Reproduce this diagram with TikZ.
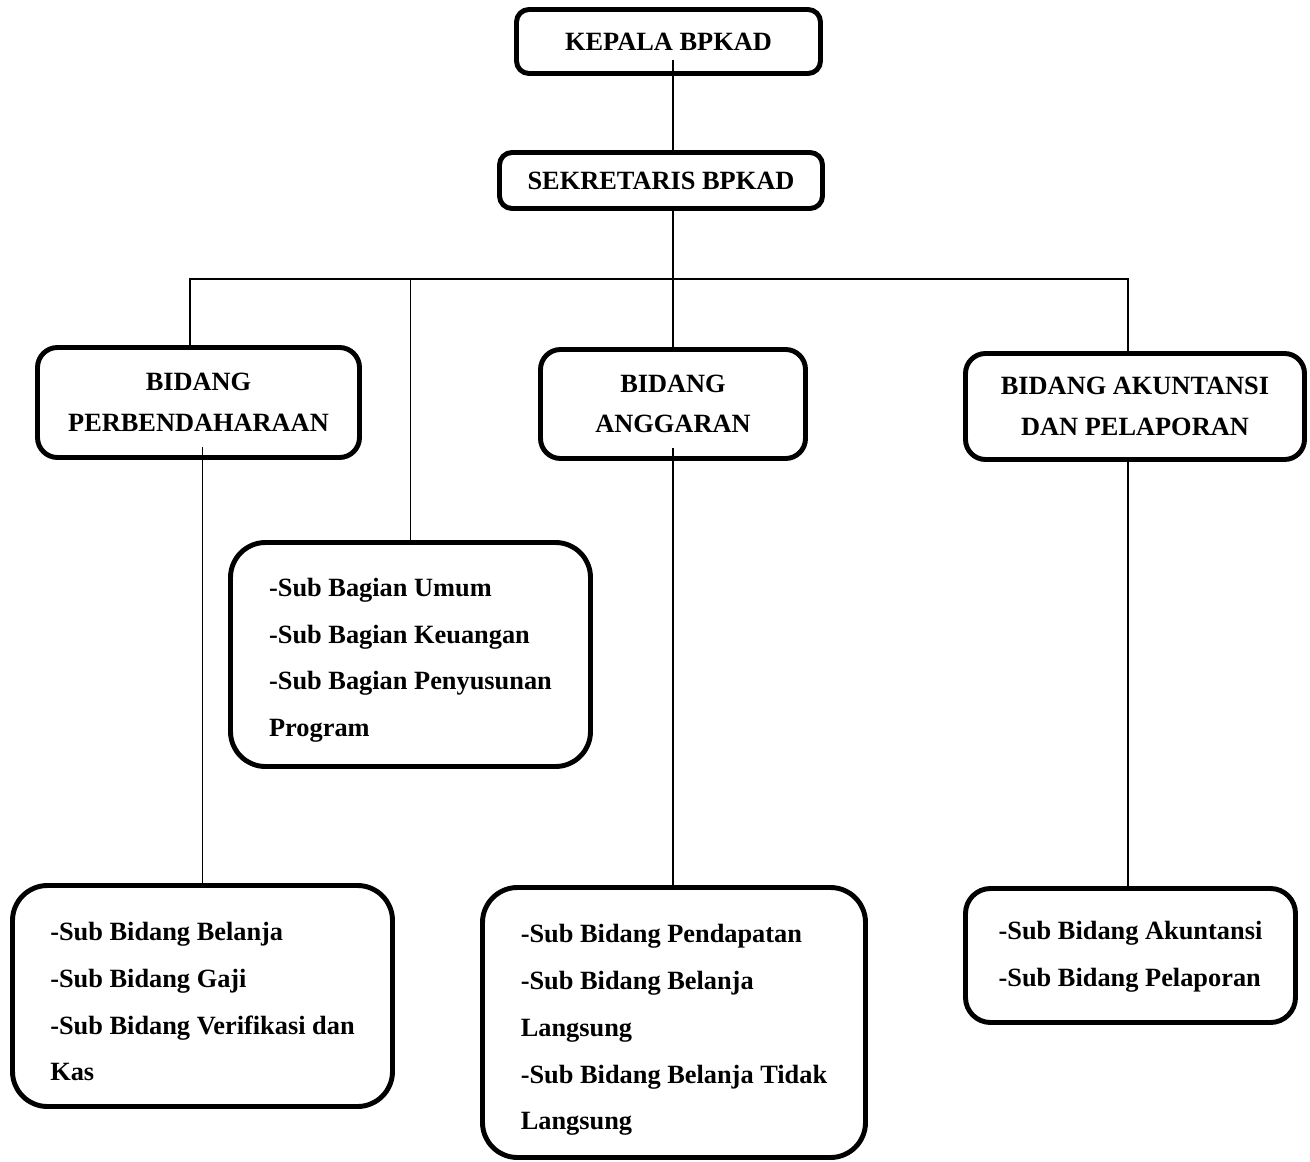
\documentclass[tikz,border=0pt]{standalone}
\usepackage{fontspec}
\setmainfont{Liberation Serif}
\usepackage{tikz}

\begin{document}
\begin{tikzpicture}[x=1cm,y=1cm,line width=.8pt,
  kotak/.style={draw,line width=2.8pt,rounded corners=.4cm,align=center,inner sep=0pt,
    font={\fontsize{15}{23.2}\selectfont\bfseries}},
  kotaksub/.style={draw,line width=2.8pt,rounded corners=.7cm,align=left,inner sep=0pt,
    font={\fontsize{15}{26.6}\selectfont\bfseries}}]
\useasboundingbox (0,0) rectangle (26.2,-23.24);
\node[kotak,rounded corners=.25cm,minimum width=6.08cm,minimum height=1.28cm] (kepala) at (13.37,-.83) {KEPALA BPKAD};
\node[kotak,rounded corners=.25cm,minimum width=6.46cm,minimum height=1.12cm] (sek) at (13.22,-3.61) {SEKRETARIS BPKAD};
\node[kotak,minimum width=6.44cm,minimum height=2.2cm] (perbend) at (3.97,-8.05) {BIDANG\\PERBENDAHARAAN};
\node[kotak,minimum width=5.3cm,minimum height=2.18cm] (anggaran) at (13.46,-8.08) {BIDANG\\ANGGARAN};
\node[kotak,minimum width=6.78cm,minimum height=2.12cm] (akuntansi) at (22.7,-8.13) {BIDANG AKUNTANSI\\DAN PELAPORAN};
\node[kotaksub,minimum width=7.2cm,minimum height=4.48cm] (bagian) at (8.21,-13.09)
  {\rule{0pt}{17pt}-Sub Bagian Umum\\-Sub Bagian Keuangan\\-Sub Bagian Penyusunan\\Program};
\node[kotaksub,minimum width=7.6cm,minimum height=4.42cm] (subperbend) at (4.05,-19.92)
  {\rule{0pt}{17pt}-Sub Bidang Belanja\\-Sub Bidang Gaji\\-Sub Bidang Verifikasi dan\\Kas};
\node[kotaksub,minimum width=7.66cm,minimum height=5.4cm] (subanggaran) at (13.48,-20.45)
  {\rule{0pt}{19pt}-Sub Bidang Pendapatan\\-Sub Bidang Belanja\\Langsung\\-Sub Bidang Belanja Tidak\\Langsung};
\node[kotaksub,rounded corners=.5cm,minimum width=6.6cm,minimum height=2.68cm] (subakuntansi) at (22.61,-19.11)
  {\rule{0pt}{12pt}-Sub Bidang Akuntansi\\-Sub Bidang Pelaporan};
\coordinate (bus) at (13.46,-5.58);
% garis ke bawah
\draw ([yshift=.32cm]kepala.south -| anggaran.north) -- (sek.north -| anggaran.north);
\draw (sek.south -| anggaran.north) -- (anggaran.north);
\draw ([xshift=-.17cm]perbend.north) |- (bus);
\draw ([xshift=-.14cm]akuntansi.north) |- (bus);
\draw (bagian.north) -- (bagian.north |- bus);
\draw ([yshift=.26cm]perbend.south -| subperbend.north) -- (subperbend.north);
\draw ([yshift=.26cm]anggaran.south) -- (anggaran.south |- subanggaran.north);
\draw ([xshift=-.05cm]subakuntansi.north |- akuntansi.south) -- ([xshift=-.05cm]subakuntansi.north);
\end{tikzpicture}
\end{document}
